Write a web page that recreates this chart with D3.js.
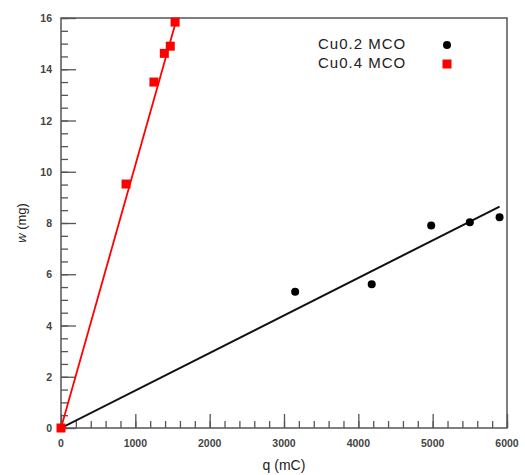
<!DOCTYPE html>
<html>
<head>
<meta charset="utf-8">
<script src="https://cdn.jsdelivr.net/npm/d3@7"></script>
<style>
  body { margin: 0; background: #fff; }
  text { font-family: "Liberation Sans", Arial, sans-serif; }
</style>
</head>
<body>
<div id="container"></div>
<script>
/* CONSTANTS AND GLOBALS */
const width = 525,
  height = 475,
  margin = { top: 18, bottom: 47, left: 61, right: 18 }

/* DATA */
// Cu0.2 MCO (black dots)
const q02 = [0, 3150, 4180, 4980, 5500, 5900]
const w02 = [0, 5.32, 5.61, 7.9, 8.03, 8.22]
// Cu0.4 MCO (red squares)
const q04 = [0, 875, 1250, 1390, 1470, 1535]
const w04 = [0, 9.52, 13.5, 14.62, 14.9, 15.84]
// fitted lines, as drawn in the picture
const fit02 = [[0, 0], [5900, 8.64]]
const fit04 = [[0, 0], [1560, 16]]

const xTicks = [0, 1000, 2000, 3000, 4000, 5000, 6000]
const yTicks = [0, 2, 4, 6, 8, 10, 12, 14, 16]

const seriesNames = ["Cu0.2 MCO", "Cu0.4 MCO"]

const data02 = q02.map((q, i) => ({ q: q, w: w02[i] }))
const data04 = q04.map((q, i) => ({ q: q, w: w04[i] }))

// + SCALES
const xScale = d3.scaleLinear()
  .domain([0, 6000])
  .range([margin.left, width - margin.right])

const yScale = d3.scaleLinear()
  .domain([0, 16])
  .range([height - margin.bottom, margin.top])

// CREATE SVG ELEMENT
const svg = d3.select("#container")
  .append("svg")
  .attr("width", width)
  .attr("height", height)

svg.append("defs").append("clipPath")
  .attr("id", "plotclip")
  .append("rect")
  .attr("x", xScale(0))
  .attr("y", yScale(16))
  .attr("width", xScale(6000) - xScale(0))
  .attr("height", yScale(0) - yScale(16))

// BUILD AND CALL AXES (ticks point inward)
const axisColor = "#555"

svg.append("g")
  .attr("transform", `translate(0, ${yScale(0)})`)
  .call(d3.axisTop(xScale).ticks(30).tickSize(7).tickFormat(""))
svg.append("g")
  .attr("transform", `translate(0, ${yScale(0)})`)
  .call(d3.axisTop(xScale).tickValues(xTicks).tickSize(14).tickFormat(""))

svg.append("g")
  .attr("transform", `translate(${xScale(0)}, 0)`)
  .call(d3.axisRight(yScale).ticks(40).tickSize(7).tickFormat(""))
svg.append("g")
  .attr("transform", `translate(${xScale(0)}, 0)`)
  .call(d3.axisRight(yScale).tickValues(yTicks).tickSize(15).tickFormat(""))

svg.selectAll(".domain").remove()
svg.selectAll(".tick line").attr("stroke", axisColor).attr("stroke-width", 1.3)

// frame
svg.append("rect")
  .attr("x", xScale(0))
  .attr("y", yScale(16))
  .attr("width", xScale(6000) - xScale(0))
  .attr("height", yScale(0) - yScale(16))
  .attr("fill", "none")
  .attr("stroke", axisColor)
  .attr("stroke-width", 1.5)

// tick labels
svg.selectAll(".xlab")
  .data(xTicks)
  .join("text")
  .attr("class", "xlab")
  .attr("x", d => xScale(d))
  .attr("y", yScale(0) + 19)
  .attr("text-anchor", "middle")
  .attr("font-size", 10.5)
  .attr("font-weight", "bold")
  .attr("fill", "#444")
  .text(d => d)

svg.selectAll(".ylab")
  .data(yTicks)
  .join("text")
  .attr("class", "ylab")
  .attr("x", xScale(0) - 9)
  .attr("y", d => yScale(d) + 4)
  .attr("text-anchor", "end")
  .attr("font-size", 10.5)
  .attr("font-weight", "bold")
  .attr("fill", "#444")
  .text(d => d)

// axis titles
svg.append("text")
  .attr("x", (xScale(0) + xScale(6000)) / 2)
  .attr("y", height - 5)
  .attr("text-anchor", "middle")
  .attr("font-size", 14)
  .attr("fill", "#222")
  .text("q (mC)")

const yTitle = svg.append("text")
  .attr("transform", `translate(26, ${yScale(8)}) rotate(-90)`)
  .attr("text-anchor", "middle")
  .attr("font-size", 13)
  .attr("fill", "#222")
yTitle.append("tspan").attr("font-style", "italic").text("w")
yTitle.append("tspan").text(" (mg)")

// LINE GENERATOR FUNCTION
const lineGen = d3.line()
  .x(d => xScale(d[0]))
  .y(d => yScale(d[1]))

const plot = svg.append("g").attr("clip-path", "url(#plotclip)")

plot.append("path")
  .attr("d", lineGen(fit02))
  .attr("fill", "none")
  .attr("stroke", "#111")
  .attr("stroke-width", 2)

plot.append("path")
  .attr("d", lineGen(fit04))
  .attr("fill", "none")
  .attr("stroke", "#ff0000")
  .attr("stroke-width", 1.8)

// DRAW POINTS
svg.selectAll(".dot")
  .data(data02.slice(1))
  .join("circle")
  .attr("class", "dot")
  .attr("cx", d => xScale(d.q))
  .attr("cy", d => yScale(d.w))
  .attr("r", 4)
  .attr("fill", "#000")

const sq = 9
svg.selectAll(".sq")
  .data(data04)
  .join("rect")
  .attr("class", "sq")
  .attr("x", d => xScale(d.q) - sq / 2)
  .attr("y", d => yScale(d.w) - sq / 2)
  .attr("width", sq)
  .attr("height", sq)
  .attr("fill", "#ff0000")

// LEGEND
const legend = svg.append("g")
seriesNames.forEach((name, i) => {
  const ly = 45 + i * 19
  legend.append("text")
    .attr("x", 318)
    .attr("y", ly + 4)
    .attr("font-size", 15)
    .attr("letter-spacing", 1)
    .attr("fill", "#222")
    .text(name)
  if (i === 0) {
    legend.append("circle")
      .attr("cx", 447)
      .attr("cy", ly)
      .attr("r", 4)
      .attr("fill", "#000")
  } else {
    legend.append("rect")
      .attr("x", 447 - sq / 2)
      .attr("y", ly - sq / 2)
      .attr("width", sq)
      .attr("height", sq)
      .attr("fill", "#ff0000")
  }
})
</script>
</body>
</html>
